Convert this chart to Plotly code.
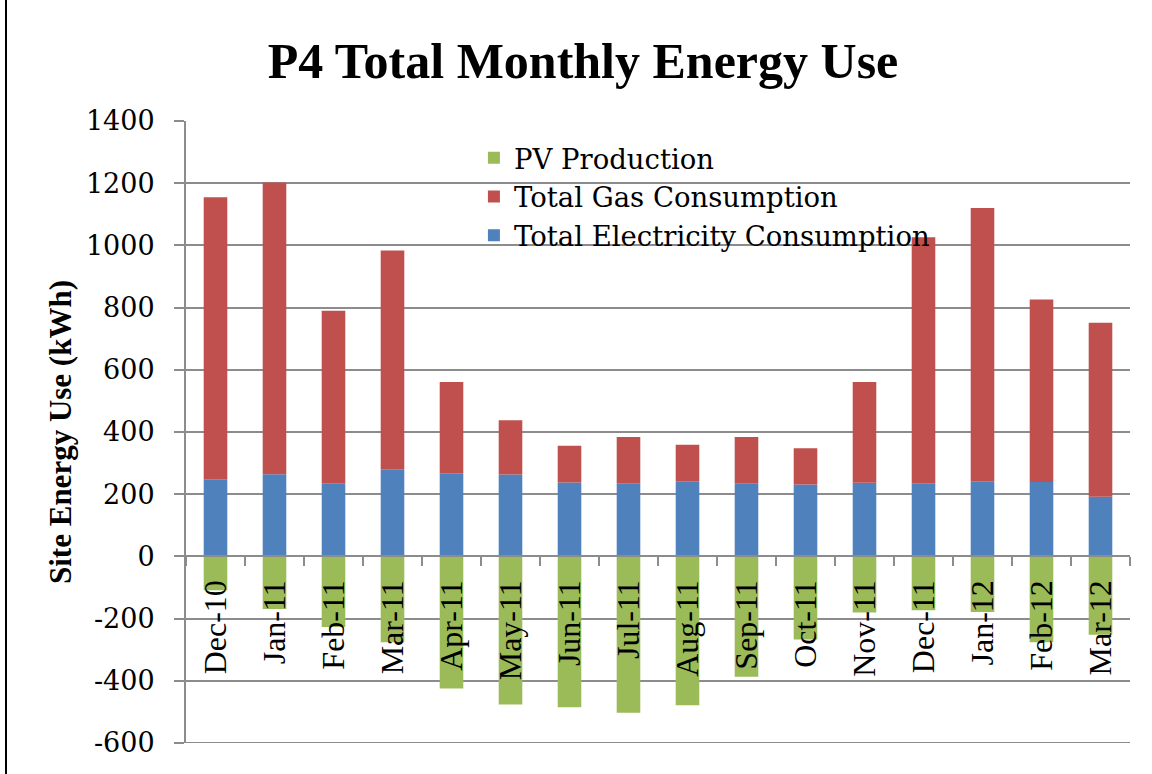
import plotly.graph_objects as go

months = ["Dec-10", "Jan-11", "Feb-11", "Mar-11", "Apr-11", "May-11", "Jun-11", "Jul-11",
          "Aug-11", "Sep-11", "Oct-11", "Nov-11", "Dec-11", "Jan-12", "Feb-12", "Mar-12"]

electricity = [248, 264, 235, 280, 267, 263, 238, 235, 242, 235, 231, 237, 235, 242, 239, 192]
gas = [907, 938, 555, 704, 294, 175, 118, 149, 117, 149, 117, 324, 791, 878, 587, 559]
pv = [-109, -169, -227, -276, -425, -476, -485, -503, -479, -387, -267, -180, -173, -179, -276, -252]

y_ticks = [-600, -400, -200, 0, 200, 400, 600, 800, 1000, 1200, 1400]
y_tick_text = ["-600", "-400", "-200", "0", "200", "400", "600", "800", "1000", "1200", "1400"]

SERIF = "Liberation Serif"
WIDE_SERIF = "DejaVu Serif"
GRID = "#8c8c8c"

fig = go.Figure()
fig.add_trace(go.Bar(x=months, y=electricity, name="Total Electricity Consumption",
                     marker=dict(color="#4F81BD", line=dict(width=0))))
fig.add_trace(go.Bar(x=months, y=gas, name="Total Gas Consumption",
                     marker=dict(color="#C0504D", line=dict(width=0))))
fig.add_trace(go.Bar(x=months, y=pv, name="PV Production",
                     marker=dict(color="#9BBB59", line=dict(width=0))))

L, R, T, B = 186, 22, 121, 31
plot_h = 774 - T - B
y_min, y_max = -600, 1400
zero_pos = (0 - y_min) / (y_max - y_min)

fig.update_layout(
    width=1152, height=774,
    margin=dict(l=L, r=R, t=T, b=B, autoexpand=False),
    paper_bgcolor="white", plot_bgcolor="white",
    barmode="relative", bargap=0.6,
    font=dict(family=SERIF, size=31, color="black"),
    title=dict(text="<b>P4 Total Monthly Energy Use</b>",
               font=dict(family=SERIF, size=50, color="black"),
               x=583 / 1152, xanchor="center", xref="container",
               y=1 - 60 / 774, yanchor="middle", yref="container"),
    legend=dict(traceorder="reversed", x=0.305, xanchor="left", y=0.980, yanchor="top",
                bgcolor="rgba(0,0,0,0)", font=dict(family=WIDE_SERIF, size=27.5),
                itemwidth=30, tracegroupgap=0),
    showlegend=True,
)

fig.update_xaxes(
    type="category", anchor="free", position=zero_pos,
    showline=True, linecolor=GRID, linewidth=2,
    showgrid=False, tickson="boundaries",
    ticks="outside", ticklen=9, tickcolor=GRID, tickwidth=2,
    tickangle=-90, ticklabelstandoff=10,
    tickfont=dict(family=SERIF, size=32),
    zeroline=False,
)

fig.update_yaxes(
    range=[y_min, y_max], tickvals=y_ticks, ticktext=y_tick_text,
    showline=True, linecolor=GRID, linewidth=2,
    showgrid=True, gridcolor=GRID, gridwidth=2,
    ticks="outside", ticklen=10, tickcolor=GRID, tickwidth=2,
    ticklabelstandoff=14,
    tickfont=dict(family=WIDE_SERIF, size=27),
    zeroline=False,
    title=dict(text="<b>Site Energy Use (kWh)</b>", font=dict(family=SERIF, size=31), standoff=5),
)

# bottom gridline at the lower end of the value range
fig.add_shape(type="line", xref="paper", yref="y", x0=0, x1=1, y0=y_min, y1=y_min,
              line=dict(color=GRID, width=2), layer="below")

# thin black rule at the left edge of the page
fig.add_shape(type="line", xref="paper", yref="paper",
              x0=(6 - L) / (1152 - L - R), x1=(6 - L) / (1152 - L - R),
              y0=-B / plot_h, y1=1 + T / plot_h,
              line=dict(color="black", width=2))

fig.write_html("out.html")
